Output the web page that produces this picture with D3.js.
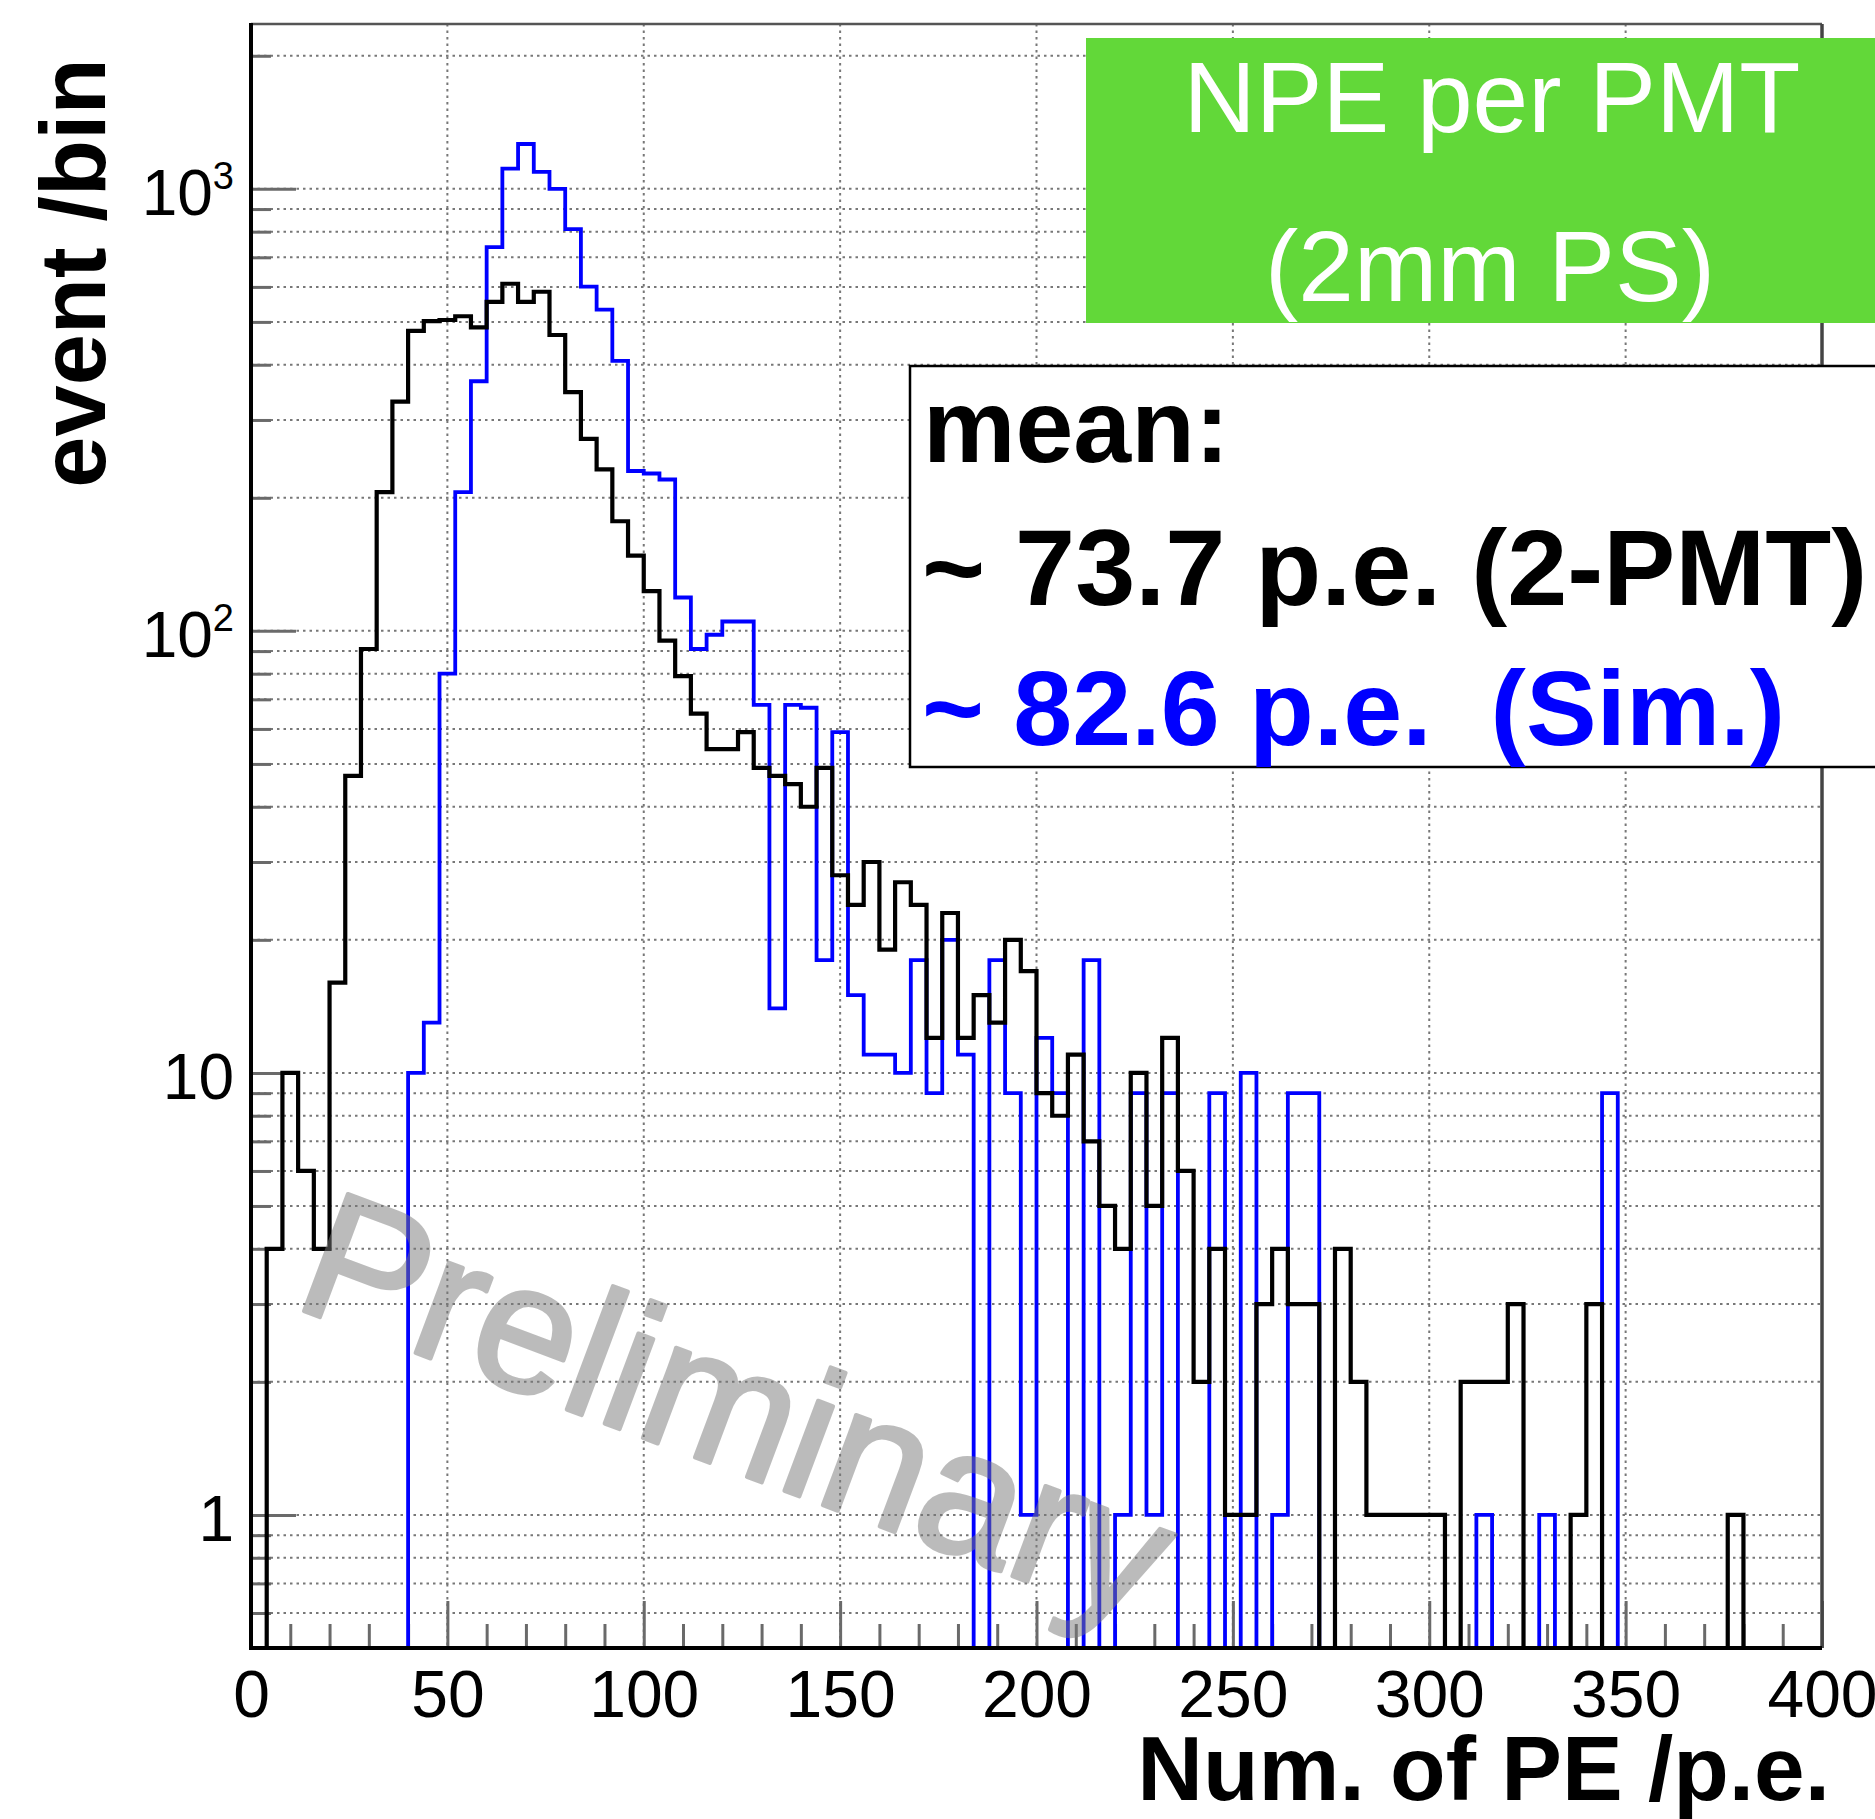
<!DOCTYPE html>
<html><head><meta charset="utf-8">
<script src="https://cdn.jsdelivr.net/npm/d3@7"></script>
<style>
html,body{margin:0;padding:0;background:#fff;}
svg{display:block;}
text{font-family:"Liberation Sans", Arial, Helvetica, sans-serif;}
</style></head><body>
<svg id="chart" width="1875" height="1819"></svg>
<script>
// ---- data ----
const BIN_WIDTH = 4;
const xMin = 0, xMax = 400;
const yMin = 0.5, yMax = 2360;
const binLow = d3.range(xMin, xMax, BIN_WIDTH);   // 100 bins of 4 p.e.

// measured data (2-PMT), black
const dataCounts = [
  0, 4, 10, 6, 4, 16, 47, 91, 206, 330,
  477, 502, 505, 515, 486, 555, 610, 555, 585, 467,
  347, 272, 232, 177, 148, 123, 95, 79, 65, 54,
  54, 59, 49, 47, 45, 40, 49, 28, 24, 30,
  19, 27, 24, 12, 23, 12, 15, 13, 20, 17,
  9, 8, 11, 7, 5, 4, 10, 5, 12, 6,
  2, 4, 1, 1, 3, 4, 3, 3, 0, 4,
  2, 1, 1, 1, 1, 1, 0, 2, 2, 2,
  3, 0, 0, 0, 1, 3, 0, 0, 0, 0,
  0, 0, 0, 0, 1, 0, 0, 0, 0, 0
];
// simulation, blue
const simCounts = [
  0, 0, 0, 0, 0, 0, 0, 0, 0, 0,
  10, 13, 80, 206, 367, 738, 1111, 1263, 1092, 1000,
  811, 601, 533, 408, 230, 227, 220, 119, 91, 98,
  105, 105, 68, 14, 68, 67, 18, 59, 15, 11,
  11, 10, 18, 9, 20, 11, 0, 18, 9, 1,
  12, 9, 0, 18, 0, 1, 9, 1, 9, 0,
  0, 9, 0, 10, 0, 1, 9, 9, 0, 0,
  0, 0, 0, 0, 0, 0, 0, 0, 1, 0,
  0, 0, 1, 0, 0, 0, 9, 0, 0, 0,
  0, 0, 0, 0, 0, 0, 0, 0, 0, 0
];

const xMajorTicks = [0, 50, 100, 150, 200, 250, 300, 350, 400];
const xMinorTicks = [10,20,30,40,60,70,80,90,110,120,130,140,160,170,180,190,210,220,230,240,260,270,280,290,310,320,330,340,360,370,380,390];
const yMajorTicks = [1, 10, 100, 1000];
const yTickLabels = [["1", ""], ["10", ""], ["10", "2"], ["10", "3"]];

const xTitle = "Num. of PE /p.e.";
const yTitle = "event /bin";
const boxTitle = ["NPE per PMT", "(2mm PS)"];
const meanLines = ["mean:", "~ 73.7 p.e. (2-PMT)", "~ 82.6 p.e.  (Sim.)"];
const watermark = "Preliminary";

// ---- chart ----
(function draw() {
const svg = d3.select("#chart");
const x = d3.scaleLinear().domain([xMin, xMax]).range([251, 1822]);
const y = d3.scaleLog().domain([yMin, yMax]).range([1648, 24]);
const pL = x.range()[0], pR = x.range()[1];
const pB = y.range()[0], pT = y.range()[1];

svg.append("defs").append("clipPath").attr("id","plotclip")
  .append("rect").attr("x", pL).attr("y", pT).attr("width", pR-pL).attr("height", pB-pT+3);

// grid
const gridY = y.ticks().filter(v => v > yMin && v < yMax);
svg.append("g").selectAll("line").data(gridY).join("line")
  .attr("x1", pL).attr("x2", pR)
  .attr("y1", d => y(d)).attr("y2", d => y(d))
  .attr("stroke", "#777").attr("stroke-width", 2).attr("stroke-dasharray", "2.5 4");
const gridX = xMajorTicks.filter(v => v > xMin && v < xMax);
svg.append("g").selectAll("line").data(gridX).join("line")
  .attr("x1", d => x(d)).attr("x2", d => x(d))
  .attr("y1", pT).attr("y2", pB)
  .attr("stroke", "#777").attr("stroke-width", 2).attr("stroke-dasharray", "2.5 4");

// axes ticks
const tickColor = "#6a6a6a";
const yMinorVals = gridY.filter(v => !yMajorTicks.includes(v));
const gyMinor = svg.append("g").attr("transform", `translate(${pL},0)`)
  .call(d3.axisLeft(y).tickValues(yMinorVals).tickSize(-20).tickFormat(() => ""));
const gyMajor = svg.append("g").attr("transform", `translate(${pL},0)`)
  .call(d3.axisLeft(y).tickValues(yMajorTicks).tickSize(-45).tickPadding(17).tickFormat(() => ""));
const gxMinor = svg.append("g").attr("transform", `translate(0,${pB})`)
  .call(d3.axisBottom(x).tickValues(xMinorTicks).tickSize(-24).tickFormat(() => ""));
const gxMajor = svg.append("g").attr("transform", `translate(0,${pB})`)
  .call(d3.axisBottom(x).tickValues(xMajorTicks).tickSize(-47).tickPadding(22).tickFormat(d3.format("d")));
[gyMinor, gyMajor, gxMinor, gxMajor].forEach(g => {
  g.select(".domain").remove();
  g.selectAll(".tick line").attr("stroke", tickColor).attr("stroke-width", 3);
});
gxMajor.selectAll(".tick text").attr("font-size", 66).attr("fill", "#000")
  .attr("font-family", '"Liberation Sans", Arial, sans-serif');
gyMajor.selectAll(".tick text").each(function(d) {
  const t = d3.select(this).text(null)
    .attr("font-size", 64).attr("fill", "#000").attr("dy", "0.4em")
    .attr("font-family", '"Liberation Sans", Arial, sans-serif');
  const lab = yTickLabels[yMajorTicks.indexOf(d)];
  t.append("tspan").text(lab[0]);
  if (lab[1]) t.append("tspan").attr("font-size", 38).attr("dy", -26).text(lab[1]);
});

// histograms
function histPath(counts) {
  const yy = c => c > 0 ? y(c) : pB;
  const p = d3.path();
  p.moveTo(x(binLow[0]), pB);
  counts.forEach((c, i) => {
    p.lineTo(x(binLow[i]), yy(c));
    p.lineTo(x(binLow[i] + BIN_WIDTH), yy(c));
  });
  p.lineTo(x(xMax), pB);
  return p.toString();
}
const hg = svg.append("g").attr("clip-path", "url(#plotclip)");
hg.append("path").attr("d", histPath(simCounts))
  .attr("fill", "none").attr("stroke", "#0000ff").attr("stroke-width", 3.8).attr("stroke-linejoin", "miter");
hg.append("path").attr("d", histPath(dataCounts))
  .attr("fill", "none").attr("stroke", "#000").attr("stroke-width", 4.2).attr("stroke-linejoin", "miter");

// frame
svg.append("line").attr("x1", pL).attr("x2", pR).attr("y1", pT).attr("y2", pT)
  .attr("stroke", "#555").attr("stroke-width", 2.5);
svg.append("line").attr("x1", pR).attr("x2", pR).attr("y1", pT).attr("y2", pB)
  .attr("stroke", "#444").attr("stroke-width", 3.5);
svg.append("line").attr("x1", pL).attr("x2", pL).attr("y1", pT - 1).attr("y2", pB + 2)
  .attr("stroke", "#000").attr("stroke-width", 4);
svg.append("line").attr("x1", pL - 2).attr("x2", pR).attr("y1", pB).attr("y2", pB)
  .attr("stroke", "#000").attr("stroke-width", 4);

// axis titles
svg.append("text").attr("transform", "translate(105,273) rotate(-90)")
  .attr("text-anchor", "middle").attr("font-size", 92).attr("font-weight", "bold").text(yTitle);
svg.append("text").attr("x", 1830).attr("y", 1800)
  .attr("text-anchor", "end").attr("font-size", 91).attr("font-weight", "bold").text(xTitle);

// watermark (semi-transparent overlay)
svg.append("g").attr("opacity", 0.5)
  .append("text").attr("transform", "translate(290,1306) rotate(20.5)")
  .attr("font-size", 182).attr("font-weight", "normal")
  .attr("fill", "#7a7a7a").attr("stroke", "#7a7a7a").attr("stroke-width", 4)
  .attr("stroke-linejoin", "round").text(watermark);

// green title box
svg.append("rect").attr("x", 1086).attr("y", 38).attr("width", 800).attr("height", 285).attr("fill", "#62d839");
svg.append("text").attr("x", 1492).attr("y", 132).attr("text-anchor", "middle")
  .attr("font-size", 100).attr("fill", "#fff").text(boxTitle[0]);
svg.append("text").attr("x", 1490).attr("y", 301).attr("text-anchor", "middle")
  .attr("font-size", 100).attr("fill", "#fff").text(boxTitle[1]);

// mean box
svg.append("rect").attr("x", 910).attr("y", 366).attr("width", 1000).attr("height", 401)
  .attr("fill", "#fff").attr("stroke", "#000").attr("stroke-width", 2.5);
svg.append("text").attr("x", 923).attr("y", 462).attr("font-size", 104).attr("font-weight", "bold")
  .attr("fill", "#000").style("white-space", "pre").text(meanLines[0]);
svg.append("text").attr("x", 922).attr("y", 605).attr("font-size", 108).attr("font-weight", "bold")
  .attr("fill", "#000").style("white-space", "pre").text(meanLines[1]);
svg.append("text").attr("x", 922).attr("y", 745).attr("font-size", 106).attr("font-weight", "bold")
  .attr("fill", "#0000ff").style("white-space", "pre").text(meanLines[2]);
})();
</script>
</body></html>
